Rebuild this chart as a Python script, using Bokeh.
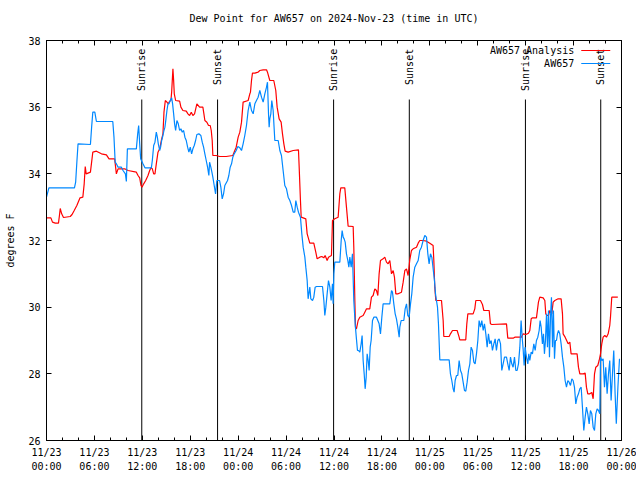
import math
from bokeh.plotting import figure
from bokeh.models import FixedTicker, LinearAxis, Label, Arrow, CustomLabelingPolicy
from bokeh.core.properties import value
from bokeh.embed import file_html
from bokeh.resources import INLINE

FONT = "DejaVu Sans Mono"

title_text = "Dew Point for AW657 on 2024-Nov-23 (time in UTC)"
y_label = "degrees F"

# hours since 2024-11-23 00:00 UTC
tick_hours = [0, 6, 12, 18, 24, 30, 36, 42, 48, 54, 60, 66, 72]
tick_labels = ["11/23\n00:00", "11/23\n06:00", "11/23\n12:00", "11/23\n18:00",
               "11/24\n00:00", "11/24\n06:00", "11/24\n12:00", "11/24\n18:00",
               "11/25\n00:00", "11/25\n06:00", "11/25\n12:00", "11/25\n18:00",
               "11/26\n00:00"]
minor_hours = [h for h in range(0, 73, 2) if h % 6 != 0]
y_ticks = [26, 28, 30, 32, 34, 36, 38]

sun_hours = [11.93, 21.42, 35.95, 45.43, 59.97, 69.4]
sun_labels = ["Sunrise", "Sunset", "Sunrise", "Sunset", "Sunrise", "Sunset"]

analysis_hours = [
    0, 0.55, 0.75, 1.1, 1.5, 1.62, 1.72, 1.9, 2.13, 2.97, 3.2, 3.47, 3.8, 4.2, 4.55, 4.72,
    4.85, 4.97, 5.5, 5.8, 6.25, 6.88, 7.5, 7.83, 8.54, 8.58, 8.75, 8.96, 9.79, 10.21, 11.25,
    11.46, 11.67, 11.83, 11.96, 12.17, 12.42, 12.71, 12.92, 13.08, 13.25, 13.42, 13.58, 13.75,
    13.96, 14.17, 14.38, 14.58, 14.71, 14.88, 15.08, 15.25, 15.42, 15.58, 15.67, 15.75, 15.83,
    15.92, 16.0, 16.17, 16.67, 16.83, 17.08, 17.5, 17.71, 17.92, 18.13, 18.33, 18.54, 18.83,
    19.17, 19.58, 19.71, 19.83, 20.08, 20.29, 20.5, 20.63, 20.75, 20.83, 21.25, 21.67, 22.5,
    23.33, 23.58, 23.75, 24.0, 24.21, 24.42, 24.62, 25.25, 25.46, 25.54, 25.67, 25.79, 26.09,
    26.5, 26.71, 27.13, 27.55, 27.67, 27.96, 28.46, 28.71, 28.88, 29.13, 29.38, 29.55, 29.72,
    29.88, 30.26, 30.89, 31.55, 31.64, 31.8, 31.89, 32.14, 32.47, 32.64, 32.97, 33.47, 33.72,
    33.89, 34.22, 34.47, 34.72, 34.89, 35.14, 35.31, 35.68, 35.81, 36.1, 36.52, 36.73, 36.85,
    37.35, 37.56, 37.77, 38.4, 38.48, 38.61, 38.69, 38.81, 39.02, 39.23, 39.65, 39.86, 40.07,
    40.48, 40.69, 40.9, 41.11, 41.32, 41.49, 41.65, 41.82, 42.15, 42.36, 42.57, 42.78, 42.99,
    43.2, 43.41, 43.57, 43.74, 44.03, 44.45, 44.66, 44.87, 45.08, 45.28, 45.49, 45.7, 45.91,
    46.33, 46.54, 46.74, 47.16, 47.58, 48.0, 48.41, 48.5, 48.62, 48.75, 49.46, 49.67, 49.75,
    50.42, 50.58, 50.84, 51.42, 51.67, 51.75, 52.5, 52.63, 52.76, 53.42, 53.63, 53.76, 54.34,
    54.59, 54.76, 55.43, 55.59, 55.76, 57.6, 57.76, 58.43, 58.64, 59.47, 59.68, 60.02, 60.35,
    60.52, 60.69, 60.85, 61.35, 61.6, 61.77, 62.19, 62.4, 62.52, 62.69, 62.86, 63.02, 63.27,
    63.44, 63.65, 64.07, 64.44, 64.61, 64.69, 64.94, 65.32, 65.53, 65.69, 66.44, 66.61, 66.78,
    67.2, 67.45, 67.61, 67.78, 68.03, 68.28, 68.45, 68.62, 68.78, 69.03, 69.2, 69.37, 69.53,
    69.7, 69.91, 70.12, 70.33, 70.53, 70.62, 70.78, 71.54]
analysis_dewpt = [
    32.68, 32.68, 32.55, 32.52, 32.52, 32.75, 32.96, 32.8, 32.69, 32.72, 32.78, 32.9, 33.05,
    33.28, 33.3, 33.7, 34.22, 34.0, 34.05, 34.65, 34.68, 34.6, 34.57, 34.45, 34.45, 34.35,
    34.0, 34.15, 34.15, 34.1, 34.05, 33.95, 33.88, 33.65, 33.6, 33.7, 33.8, 33.95, 34.1,
    34.18, 34.15, 34.0, 34.0, 34.3, 34.65, 34.75, 35.0, 35.2, 35.85, 36.2, 36.15, 36.1, 36.18,
    36.2, 36.45, 36.8, 37.15, 36.8, 36.4, 36.2, 36.18, 36.0, 35.9, 35.88, 35.8, 35.75, 35.85,
    35.75, 35.8, 36.1, 36.0, 36.0, 35.8, 35.6, 35.55, 35.45, 35.45, 35.3, 35.0, 34.55, 34.55,
    34.52, 34.52, 34.55, 34.7, 34.8, 35.1, 35.25, 35.55, 36.15, 36.2, 36.4, 36.45, 36.8,
    37.02, 37.02, 37.05, 37.1, 37.12, 37.12, 37.05, 36.8, 36.8, 36.5, 36.0, 35.65, 35.55,
    35.2, 34.9, 34.68, 34.65, 34.7, 34.72, 34.2, 33.2, 32.7, 32.68, 32.65, 32.2, 31.92, 31.92,
    31.65, 31.45, 31.5, 31.52, 31.48, 31.55, 31.4, 31.5, 31.55, 32.6, 32.65, 32.7, 33.4,
    33.58, 33.58, 33.0, 32.43, 32.42, 31.8, 30.2, 29.4, 29.35, 29.6, 29.7, 29.75, 29.85,
    29.95, 29.95, 30.3, 30.35, 30.55, 30.5, 30.35, 31.0, 31.4, 31.45, 31.5, 31.35, 31.3,
    31.4, 31.0, 31.1, 30.9, 30.4, 30.4, 30.45, 30.75, 31.1, 31.15, 30.95, 31.42, 31.7, 31.75,
    31.8, 31.92, 32.0, 32.0, 31.98, 31.92, 31.85, 31.4, 30.6, 30.2, 30.2, 29.6, 29.12, 29.12,
    29.2, 29.3, 29.3, 29.1, 29.02, 29.02, 29.5, 29.8, 29.8, 29.95, 30.2, 30.2, 30.08, 29.9,
    29.9, 29.5, 29.48, 29.5, 29.07, 29.07, 29.1, 29.1, 29.2, 29.18, 29.22, 29.3, 29.65,
    29.68, 29.68, 30.15, 30.3, 30.28, 30.2, 29.8, 29.75, 29.75, 29.9, 29.8, 30.15, 30.2,
    30.25, 30.25, 29.8, 29.2, 29.1, 28.9, 28.95, 28.6, 28.6, 28.2, 28.0, 28.0, 28.02, 27.6,
    27.4, 27.4, 27.44, 27.25, 28.0, 28.2, 28.25, 28.4, 28.6, 28.9, 29.1, 29.15, 29.1, 29.2,
    29.45, 29.7, 30.3, 30.3]

station_hours = [
    0, 0.3, 3.5, 3.65, 3.8, 3.95, 5.5, 5.65, 5.8, 6.05, 6.25, 8.3, 8.45, 8.6, 8.75, 8.96,
    9.38, 9.58, 9.88, 10.0, 10.13, 11.25, 11.42, 11.54, 11.67, 11.79, 12.08, 12.33, 13.13,
    13.25, 13.42, 13.58, 13.75, 13.88, 14.0, 14.17, 14.29, 14.42, 14.58, 14.71, 14.83, 14.96,
    15.08, 15.21, 15.33, 15.5, 15.67, 15.79, 15.92, 16.04, 16.17, 16.33, 16.5, 16.67, 16.83,
    17.0, 17.17, 17.33, 17.5, 17.67, 17.83, 18.0, 18.17, 18.33, 18.5, 18.67, 18.83, 19.08,
    19.33, 19.5, 19.67, 19.83, 20.0, 20.17, 20.33, 20.42, 20.58, 20.71, 20.83, 21.0, 21.17,
    21.33, 21.67, 21.83, 22.0, 22.17, 22.33, 22.67, 22.83, 23.0, 23.17, 23.33, 23.5, 23.75,
    23.96, 24.21, 24.42, 24.62, 24.83, 25.04, 25.25, 25.46, 25.67, 25.88, 26.09, 26.29, 26.5,
    26.71, 26.92, 27.13, 27.34, 27.55, 27.67, 27.8, 27.88, 27.96, 28.09, 28.21, 28.38, 28.59,
    29.01, 29.22, 29.42, 29.63, 29.84, 30.05, 30.26, 30.47, 30.68, 30.89, 31.09, 31.22, 31.39,
    31.55, 31.8, 31.97, 32.14, 32.35, 32.47, 32.64, 32.76, 32.97, 33.1, 33.31, 33.47, 33.64,
    33.81, 34.56, 34.73, 34.85, 34.98, 35.14, 35.31, 35.48, 35.64, 35.81, 35.89, 35.98, 36.1,
    36.73, 36.9, 37.02, 37.15, 37.27, 37.4, 37.56, 37.73, 37.86, 37.98, 38.15, 38.31, 38.48,
    38.65, 38.81, 38.94, 39.07, 39.23, 39.4, 39.52, 39.65, 39.78, 39.9, 40.03, 40.15, 40.28,
    40.4, 40.53, 40.65, 40.82, 40.99, 41.32, 41.65, 41.82, 41.99, 42.15, 42.36, 42.99, 43.2,
    43.32, 43.49, 43.66, 43.82, 43.99, 44.16, 44.24, 44.41, 44.74, 44.91, 45.08, 45.24, 45.41,
    45.58, 45.74, 45.91, 46.12, 46.33, 46.54, 46.74, 46.95, 47.16, 47.37, 47.58, 47.75, 47.91,
    48.08, 48.25, 48.58, 48.71, 48.83, 48.96, 49.08, 49.25, 50.42, 50.58, 50.75, 50.92, 51.04,
    51.17, 51.34, 51.5, 51.67, 51.84, 52.0, 52.17, 52.34, 52.5, 52.67, 52.84, 53.01, 53.17,
    53.34, 53.51, 53.67, 53.84, 54.01, 54.17, 54.34, 54.51, 54.68, 54.84, 55.01, 55.18, 55.34,
    55.51, 55.68, 55.84, 56.01, 56.18, 56.34, 56.51, 56.68, 56.85, 57.01, 57.18, 57.35, 57.6,
    57.76, 57.93, 58.1, 58.26, 58.43, 58.6, 58.77, 58.93, 59.1, 59.27, 59.43, 59.56, 59.68,
    59.81, 59.93, 60.1, 60.27, 60.39, 60.52, 60.69, 60.85, 61.02, 61.19, 61.35, 61.52, 61.69,
    61.81, 61.94, 62.1, 62.23, 62.35, 62.48, 62.61, 62.73, 62.86, 62.98, 63.11, 63.23, 63.36,
    63.48, 63.61, 63.73, 63.86, 63.98, 64.11, 64.27, 64.44, 64.61, 64.78, 64.94, 65.11, 65.28,
    65.44, 65.61, 65.78, 65.94, 66.11, 66.28, 66.44, 66.61, 66.78, 66.95, 67.11, 67.28, 67.45,
    67.61, 67.78, 67.95, 68.11, 68.28, 68.45, 68.62, 68.78, 68.95, 69.12, 69.28, 69.37, 69.53,
    69.7, 69.87, 70.03, 70.2, 70.37, 70.53, 70.7, 70.87, 71.03, 71.2, 71.35, 71.55, 71.75]
station_dewpt = [
    33.3, 33.58, 33.58, 33.75, 34.35, 34.9, 34.88, 35.4, 35.85, 35.85, 35.57, 35.57, 35.1,
    34.35, 34.3, 34.2, 34.2, 34.1, 34.0, 33.77, 34.75, 34.75, 35.2, 35.45, 34.9, 34.45, 34.3,
    34.18, 34.18, 34.4, 34.85, 34.95, 35.25, 35.1, 34.9, 34.7, 34.8, 35.0, 35.15, 35.3, 35.4,
    35.65, 35.9, 36.1, 36.1, 36.2, 36.28, 36.1, 35.8, 35.5, 35.3, 35.6, 35.5, 35.3, 35.35,
    35.25, 35.3, 35.1, 35.0, 34.8, 34.65, 34.8, 34.6, 34.75, 34.85, 35.0, 35.18, 35.2, 35.15,
    34.95, 34.8, 34.6, 34.4, 34.2, 33.95, 34.35, 34.2, 34.05, 33.9, 33.65, 33.4, 33.8, 33.8,
    33.6, 33.25, 33.4, 33.65, 33.8, 33.95, 34.2, 34.3, 34.5, 34.6, 34.7, 34.82, 34.78, 34.7,
    34.9, 35.15, 35.45, 35.9, 36.15, 35.9, 35.8, 36.1, 36.2, 36.3, 36.5, 36.3, 36.15, 36.4,
    36.6, 36.75, 35.8, 35.4, 35.65, 35.8, 36.2, 35.9, 35.0, 35.0, 34.7, 34.55, 34.1, 33.65,
    33.55, 33.3, 33.2, 33.05, 32.85, 32.85, 33.2, 33.0, 32.85, 32.7, 32.2, 31.8, 31.5, 31.2,
    30.8, 30.25, 30.6, 30.25, 30.2, 30.3, 30.6, 30.62, 30.62, 30.2, 29.75, 30.0, 30.4, 30.8,
    30.6, 30.2, 30.7, 30.1, 31.0, 31.35, 31.35, 32.0, 32.3, 32.1, 32.05, 31.95, 31.6, 31.4,
    31.2, 31.5, 31.2, 31.6, 30.2, 29.5, 29.05, 28.7, 28.7, 28.65, 28.9, 29.15, 28.4, 28.0,
    27.55, 27.9, 28.6, 28.4, 28.1, 28.8, 29.0, 29.6, 29.7, 29.7, 29.5, 29.2, 29.7, 30.1, 30.1,
    30.1, 30.5, 30.45, 30.1, 29.8, 29.65, 29.4, 29.1, 29.4, 29.6, 29.6, 29.95, 30.1, 29.75,
    29.7, 30.1, 30.4, 30.9, 31.2, 31.3, 31.4, 31.7, 31.8, 32.0, 32.15, 32.1, 31.6, 31.3, 31.6,
    31.5, 30.8, 30.4, 30.2, 30.0, 29.5, 28.42, 28.42, 28.0, 27.8, 27.55, 27.45, 27.8, 27.95,
    27.95, 28.4, 28.1, 28.0, 27.75, 27.5, 27.48, 27.75, 28.1, 28.3, 28.8, 28.7, 28.35, 28.3,
    28.6, 29.0, 29.6, 29.4, 29.6, 29.3, 29.5, 29.2, 28.8, 29.2, 28.9, 29.0, 28.7, 28.9, 29.05,
    28.7, 29.0, 29.05, 28.9, 28.1, 28.3, 28.5, 28.5, 28.3, 28.1, 28.5, 28.3, 28.2, 28.5, 28.1,
    28.1, 28.3, 28.8, 29.6, 29.1, 28.75, 28.25, 28.8, 28.5, 28.3, 28.6, 28.4, 28.65, 28.6,
    28.9, 28.7, 29.0, 29.1, 29.3, 29.6, 29.4, 28.9, 29.2, 28.6, 29.0, 29.8, 28.8, 29.9, 28.5,
    29.7, 30.3, 28.8, 29.9, 28.45, 29.0, 29.0, 29.2, 29.3, 29.2, 28.9, 28.5, 28.2, 27.8, 27.6,
    27.8, 27.75, 27.65, 27.85, 27.8, 27.6, 27.1, 27.3, 27.4, 27.55, 27.6, 27.0, 26.3, 26.7,
    27.0, 26.8, 26.5, 26.9, 26.8, 26.4, 26.3, 26.8, 26.95, 26.9, 26.8, 28.5, 28.4, 28.45,
    27.6, 28.2, 27.4, 28.0, 28.4, 27.2, 28.0, 28.7, 27.4, 26.5, 27.6, 28.45]

p = figure(frame_width=575, frame_height=400, x_range=(0, 72), y_range=(26, 38),
           output_backend="svg", toolbar_location=None,
           min_border_left=46, min_border_right=15, min_border_top=40, min_border_bottom=36,
           background_fill_color="white", border_fill_color="white")

p.title.text = title_text
p.title.align = "center"
p.title.text_font = FONT
p.title.text_font_size = "10px"
p.title.text_font_style = "normal"
p.title.text_color = "black"
p.title.standoff = 12

p.grid.visible = False
p.outline_line_color = "black"

xt = FixedTicker(ticks=tick_hours, minor_ticks=minor_hours)
yt = FixedTicker(ticks=y_ticks, minor_ticks=[])

no_labels = CustomLabelingPolicy(code="""
for (const i of [...indices.ones()]) { indices.unset(i) }
return indices
""")


def style_axis(ax, labels=True):
    ax.axis_line_color = "black"
    ax.major_tick_line_color = "black"
    ax.minor_tick_line_color = "black"
    ax.major_tick_in = 5
    ax.major_tick_out = 0
    ax.minor_tick_in = 3
    ax.minor_tick_out = 0
    ax.major_label_text_font = FONT
    ax.major_label_text_color = "black"
    ax.major_label_text_font_size = "10px"
    if not labels:
        ax.major_label_policy = no_labels
        ax.major_label_standoff = 0


p.xaxis.ticker = xt
p.xaxis.major_label_overrides = {h: t for h, t in zip(tick_hours, tick_labels)}
style_axis(p.xaxis[0])
p.xaxis.major_label_standoff = 6
p.xaxis.major_label_text_line_height = 1.3

p.yaxis.ticker = yt
style_axis(p.yaxis[0])
p.yaxis.major_label_standoff = 6
p.yaxis.axis_label = y_label
p.yaxis.axis_label_text_font = FONT
p.yaxis.axis_label_text_font_size = "10px"
p.yaxis.axis_label_text_font_style = "normal"
p.yaxis.axis_label_text_color = "black"
p.yaxis.axis_label_standoff = 9

top = LinearAxis(ticker=xt)
style_axis(top, labels=False)
p.add_layout(top, "above")
right = LinearAxis(ticker=yt)
style_axis(right, labels=False)
p.add_layout(right, "right")

n = len(sun_hours)
p.segment(x0=sun_hours, y0=[26] * n, x1=sun_hours, y1=[36.23] * n,
          line_color="black", line_width=1)
p.text(x=sun_hours, y=[37.75] * n, text=sun_labels, angle=math.pi / 2,
       text_align="right", text_baseline="middle", text_font=value(FONT),
       text_font_size="10px", text_color="black")

red = "#ff0000"
blue = "#0088ff"
p.line(analysis_hours, analysis_dewpt, line_color=red, line_width=1.2)
p.line(station_hours, station_dewpt, line_color=blue, line_width=1.2)

# key (top right, text then sample line)
for txt, col, yy in (("AW657 Analysis", red, 37.70), ("AW657", blue, 37.31)):
    p.add_layout(Label(x=66.08, y=yy, text=txt, text_align="right", text_baseline="middle",
                       text_font=FONT, text_font_size="10px", text_color="black"))
    p.add_layout(Arrow(x_start=66.96, y_start=yy, x_end=70.59, y_end=yy, end=None,
                       line_color=col, line_width=1.2))

open("out.html", "w").write(file_html(p, INLINE))
